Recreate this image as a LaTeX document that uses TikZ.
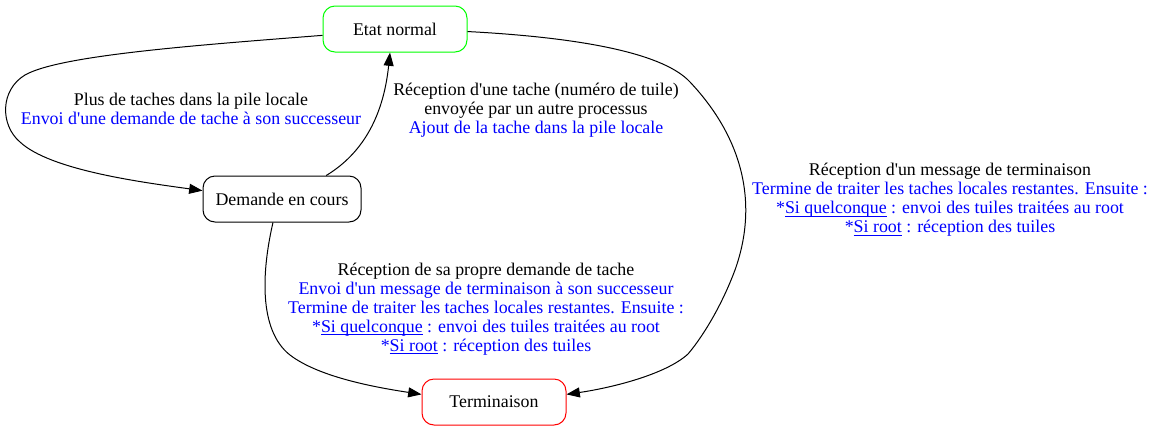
\documentclass[tikz,border=0pt]{standalone}
\usepackage{fontspec}
\setmainfont{Liberation Serif}[Ligatures=TeXOff]
\usepackage{xcolor}
\usetikzlibrary{arrows.meta}

\newsavebox{\soulbox}
\newcommand{\souligne}[1]{\sbox{\soulbox}{#1}\rlap{\color{blue}\rule[-2.2pt]{\wd\soulbox}{0.6pt}}\usebox{\soulbox}}

\begin{document}
\begin{tikzpicture}[
        x=0.75pt, y=-0.75pt,
        state/.style={rectangle, rounded corners=9pt, draw=black, line width=0.75pt, minimum width=108pt, minimum height=34.5pt, align=center, font=\fontsize{13.4}{14.25}\selectfont},
        lbl/.style={align=center, font=\fontsize{13.4}{14.25}\selectfont, inner sep=0pt},
        arrow/.style={-{Triangle[length=10pt, width=7.5pt]}, line width=0.75pt}
    ]
    \useasboundingbox (0,0) rectangle (1157,433);

    \node[state, draw=green] (etat) at (395,29) {Etat normal};
    \node[state, minimum width=118.5pt] (demande) at (282,199) {Demande en cours};
    \node[state, draw=red] (fin) at (494,402) {Terminaison};

    \node[lbl] (lblplus) at (191,109) {Plus de taches dans la pile locale\\ \textcolor{blue}{Envoi d'une demande de tache à son successeur}};
    \node[lbl] (lblrecep) at (536,110) {Réception d'une tache (numéro de tuile)\\ envoyée par un autre processus\\ \textcolor{blue}{Ajout de la tache dans la pile locale}};
    \node[lbl] (lblmsg) at (950,200) {Réception d'un message de terminaison\\ \textcolor{blue}{Termine de traiter les taches locales restantes. Ensuite :}\\ \textcolor{blue}{*\souligne{Si quelconque} : envoi des tuiles traitées au root}\\ \textcolor{blue}{*\souligne{Si root} : réception des tuiles}};
    \node[lbl] (lblpropre) at (486,309) {Réception de sa propre demande de tache\\ \textcolor{blue}{Envoi d'un message de terminaison à son successeur}\\ \textcolor{blue}{Termine de traiter les taches locales restantes. Ensuite :}\\ \textcolor{blue}{*\souligne{Si quelconque} : envoi des tuiles traitées au root}\\ \textcolor{blue}{*\souligne{Si root} : réception des tuiles}};

    \draw[arrow] (etat.185) .. controls (200,45) and (60,55) .. (25,75) .. controls (0,90) and (0,125) .. (20,142) .. controls (50,170) and (140,182) .. (demande.174);
    \draw[arrow] (demande.28) .. controls (360,155) and (383,120) .. (etat.258);
    \draw[arrow] (etat.-2) .. controls (590,38) and (665,55) .. (690,82) .. controls (740,135) and (760,200) .. (735,270) .. controls (720,310) and (700,340) .. (688,354) .. controls (665,375) and (610,388) .. (fin.6);
    \draw[arrow] (demande.249) .. controls (262,270) and (258,330) .. (290,355) .. controls (320,378) and (380,388) .. (fin.174);
\end{tikzpicture}
\end{document}
